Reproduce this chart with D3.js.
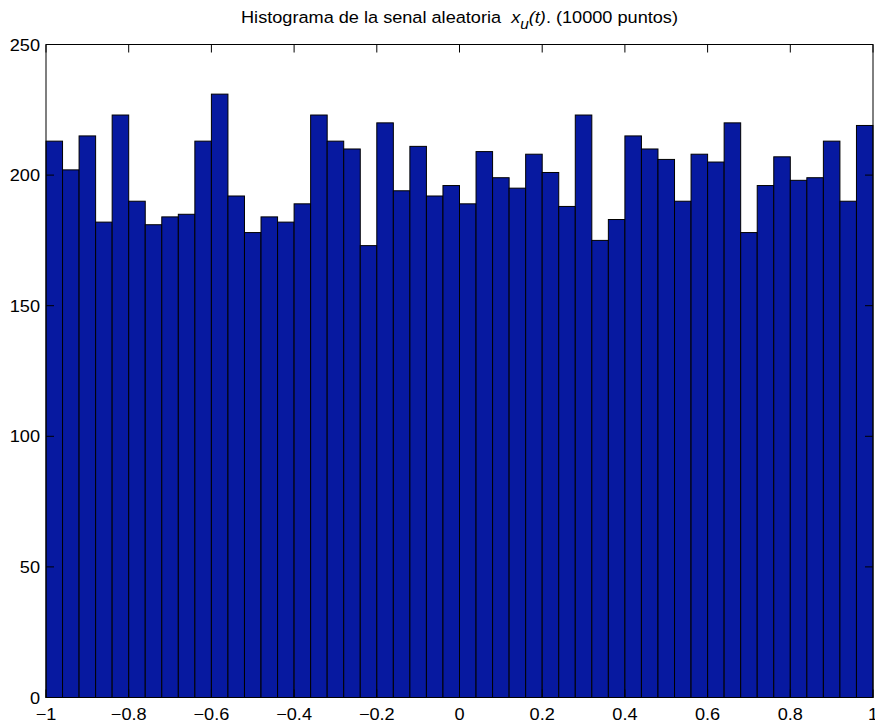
<!DOCTYPE html>
<html>
<head>
<meta charset="utf-8">
<script src="https://cdn.jsdelivr.net/npm/d3@7"></script>
<style>
  html, body { margin: 0; padding: 0; background: #fff; }
  svg { display: block; font-family: "Liberation Sans", Arial, Helvetica, sans-serif; }
</style>
</head>
<body>
<svg id="chart" width="875" height="724"></svg>
<script>
// Histogram of 10000 uniform samples on [-1, 1], 50 bins
const binEdgesStart = -1;
const binEdgesEnd = 1;
const binCount = 50;
const counts = [
  213, 202, 215, 182, 223, 190, 181, 184, 185, 213,
  231, 192, 178, 184, 182, 189, 223, 213, 210, 173,
  220, 194, 211, 192, 196, 189, 209, 199, 195, 208,
  201, 188, 223, 175, 183, 215, 210, 206, 190, 208,
  205, 220, 178, 196, 207, 198, 199, 213, 190, 219
];
const xTicks = [-1, -0.8, -0.6, -0.4, -0.2, 0, 0.2, 0.4, 0.6, 0.8, 1];
const yTicks = [0, 50, 100, 150, 200, 250];

const svg = d3.select("#chart");
const margin = { left: 46, right: 2, top: 44.5, bottom: 26.5 };
const W = 875, H = 724;
const fontSize = 16.5;
const stretch = 1.1; // slightly wide lettering
const x = d3.scaleLinear().domain([-1, 1]).range([margin.left, W - margin.right]);
const y = d3.scaleLinear().domain([0, 250]).range([H - margin.bottom, margin.top]);

const binWidth = (binEdgesEnd - binEdgesStart) / binCount;
const bins = counts.map((c, i) => ({
  x0: binEdgesStart + i * binWidth,
  x1: binEdgesStart + (i + 1) * binWidth,
  count: c
}));

// bars
svg.append("g")
  .selectAll("rect")
  .data(bins)
  .join("rect")
  .attr("x", d => x(d.x0))
  .attr("y", d => y(d.count))
  .attr("width", d => x(d.x1) - x(d.x0))
  .attr("height", d => y(0) - y(d.count))
  .attr("fill", "#0719a0")
  .attr("stroke", "#000")
  .attr("stroke-width", 1);

// frame
const x0 = x(-1), x1 = x(1), yb = y(0), yt = y(250);
svg.append("rect")
  .attr("x", x0).attr("y", yt)
  .attr("width", x1 - x0).attr("height", yb - yt)
  .attr("fill", "none").attr("stroke", "#000").attr("stroke-width", 1);

const fmt = v => (v < 0 ? "\u2212" + Math.abs(v) : String(v));

// text placed at (px, py) with a small horizontal stretch
function label(g, px, py, anchor, str) {
  return g.append("text")
    .attr("transform", `translate(${px},${py}) scale(${stretch},1)`)
    .attr("text-anchor", anchor).attr("font-size", fontSize).attr("fill", "#000")
    .text(str);
}

// x axis ticks (inward, top and bottom) and labels
const tickLen = 8;
const gx = svg.append("g");
xTicks.forEach(t => {
  gx.append("line").attr("x1", x(t)).attr("x2", x(t)).attr("y1", yb).attr("y2", yb - tickLen)
    .attr("stroke", "#000");
  gx.append("line").attr("x1", x(t)).attr("x2", x(t)).attr("y1", yt).attr("y2", yt + tickLen)
    .attr("stroke", "#000");
  label(gx, x(t), yb + 22.5, "middle", fmt(t));
});

// y axis ticks and labels
const gy = svg.append("g");
yTicks.forEach(t => {
  gy.append("line").attr("x1", x0).attr("x2", x0 + tickLen).attr("y1", y(t)).attr("y2", y(t))
    .attr("stroke", "#000");
  gy.append("line").attr("x1", x1).attr("x2", x1 - tickLen).attr("y1", y(t)).attr("y2", y(t))
    .attr("stroke", "#000");
  label(gy, x0 - 6, y(t) + 6, "end", t);
});

// title with italic x_u(t)
const title = label(svg, (x0 + x1) / 2, 23, "middle", null);
title.append("tspan").text("Histograma de la senal aleatoria \u00a0");
title.append("tspan").attr("font-style", "italic").text("x");
title.append("tspan").attr("font-style", "italic").attr("font-size", 14).attr("dy", 6).text("u");
title.append("tspan").attr("font-style", "italic").attr("dy", -6).text("(t)");
title.append("tspan").text(". (10000 puntos)");
</script>
</body>
</html>
